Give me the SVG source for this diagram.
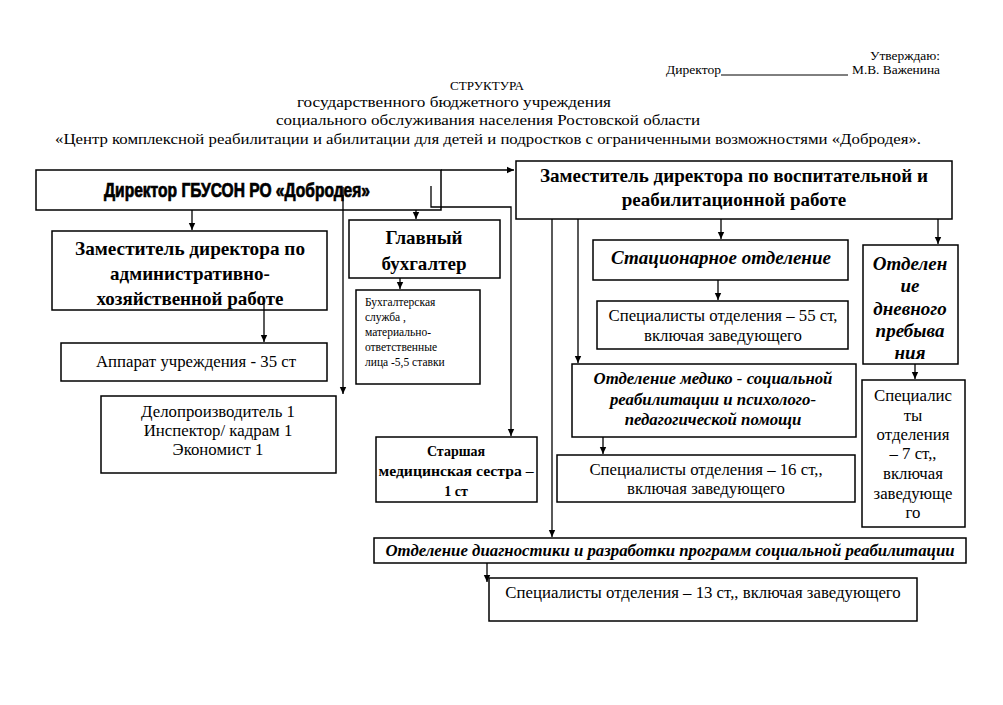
<svg xmlns="http://www.w3.org/2000/svg" width="1003" height="705" viewBox="0 0 1003 705">
<style>
.box{fill:#fff;stroke:#000;stroke-width:1.5}
.t{font-family:"Liberation Serif","Times New Roman",serif;fill:#000;text-anchor:middle}
.l{font-family:"Liberation Serif","Times New Roman",serif;fill:#000;text-anchor:start;font-size:11.5px}
.r{font-size:16.8px}
.b{font-weight:bold;font-size:19px}
.bi{font-weight:bold;font-style:italic}
.c{fill:none;stroke:#000;stroke-width:1.3}
</style>
<defs>
<marker id="ah" markerWidth="8" markerHeight="8" refX="7" refY="4" orient="auto" markerUnits="userSpaceOnUse">
<path d="M0,0.8 L7,4 L0,7.2 Z" fill="#000"/>
</marker>
</defs>
<rect width="1003" height="705" fill="#fff"/>

<g id="header" font-family="'Liberation Serif','Times New Roman',serif" fill="#000">
<text x="940" y="60" font-size="11.5" text-anchor="end" textLength="70" lengthAdjust="spacingAndGlyphs">Утверждаю:</text>
<text x="666" y="74" font-size="11.5" text-anchor="start" textLength="55" lengthAdjust="spacingAndGlyphs">Директор</text>
<line x1="721" y1="75" x2="848" y2="75" stroke="#000" stroke-width="1"/>
<text x="940" y="74" font-size="11.5" text-anchor="end" textLength="88" lengthAdjust="spacingAndGlyphs">М.В. Важенина</text>
<text x="487" y="90" font-size="12.5" text-anchor="middle" textLength="74" lengthAdjust="spacingAndGlyphs">СТРУКТУРА</text>
<text x="454" y="107" font-size="15" text-anchor="middle" textLength="314" lengthAdjust="spacingAndGlyphs">государственного  бюджетного учреждения</text>
<text x="488" y="125" font-size="15" text-anchor="middle" textLength="424" lengthAdjust="spacingAndGlyphs">социального обслуживания населения  Ростовской области</text>
<text x="488" y="144" font-size="15" text-anchor="middle" textLength="866" lengthAdjust="spacingAndGlyphs">«Центр комплексной реабилитации и абилитации для детей и подростков с ограниченными возможностями «Добродея».</text>
</g>

<g id="director">
<rect class="box" x="36" y="170" width="405" height="40"/>
<text x="237" y="197" font-family="'Liberation Sans',Arial,sans-serif" font-weight="900" font-size="19.5" text-anchor="middle" textLength="266" lengthAdjust="spacingAndGlyphs" stroke="#000" stroke-width="0.7">Директор ГБУСОН РО «Добродея»</text>
</g>

<g id="zam-vosp">
<rect class="box" x="516" y="161" width="436" height="58"/>
<text class="t b" x="734" y="182" textLength="388" lengthAdjust="spacingAndGlyphs">Заместитель директора по воспитательной и</text>
<text class="t b" x="734" y="206">реабилитационной работе</text>
</g>

<g id="zam-admin">
<rect class="box" x="52" y="231" width="275" height="79"/>
<text class="t b" x="190" y="255" textLength="230" lengthAdjust="spacingAndGlyphs">Заместитель директора по</text>
<text class="t b" x="190" y="280">административно-</text>
<text class="t b" x="190" y="305">хозяйственной работе</text>
</g>

<g id="gl-buh">
<rect class="box" x="349" y="220" width="151" height="58"/>
<text class="t b" x="424" y="244">Главный</text>
<text class="t b" x="424" y="270">бухгалтер</text>
</g>

<g id="buh-sluzhba">
<rect class="box" x="356" y="290" width="124" height="94"/>
<text class="l" x="365" y="306">Бухгалтерская</text>
<text class="l" x="365" y="321">служба ,</text>
<text class="l" x="365" y="336">материально-</text>
<text class="l" x="365" y="351">ответственные</text>
<text class="l" x="365" y="366">лица -5,5 ставки</text>
</g>

<g id="apparat">
<rect class="box" x="61" y="343" width="266" height="38"/>
<text class="t r" x="196" y="367">Аппарат учреждения - 35 ст</text>
</g>

<g id="deloproizv">
<rect class="box" x="101" y="396" width="235" height="77"/>
<text class="t r" x="218" y="417">Делопроизводитель  1</text>
<text class="t r" x="218" y="436">Инспектор/ кадрам 1</text>
<text class="t r" x="218" y="455">Экономист 1</text>
</g>

<g id="starshaya">
<rect class="box" x="376" y="437" width="161" height="65"/>
<text class="t" font-weight="bold" x="456" y="456" font-size="14">Старшая</text>
<text class="t" font-weight="bold" x="456" y="476" font-size="14" textLength="155" lengthAdjust="spacingAndGlyphs">медицинская сестра –</text>
<text class="t" font-weight="bold" x="456" y="496" font-size="14">1 ст</text>
</g>

<g id="stacionar">
<rect class="box" x="593" y="240" width="255" height="40"/>
<text class="t bi" x="721" y="264" font-size="19">Стационарное отделение</text>
</g>

<g id="spec55">
<rect class="box" x="597" y="301" width="251" height="48"/>
<text class="t r" x="723" y="321">Специалисты отделения – 55 ст,</text>
<text class="t r" x="723" y="341">включая заведующего</text>
</g>

<g id="dnevnoe">
<rect class="box" x="863" y="245" width="95" height="119"/>
<text class="t bi" x="910" y="270" font-size="19">Отделен</text>
<text class="t bi" x="910" y="292" font-size="19">ие</text>
<text class="t bi" x="910" y="315" font-size="19">дневного</text>
<text class="t bi" x="910" y="337" font-size="19">пребыва</text>
<text class="t bi" x="910" y="359" font-size="19">ния</text>
</g>

<g id="spec7">
<rect class="box" x="862" y="380" width="103" height="147"/>
<text class="t r" x="913" y="401">Специалис</text>
<text class="t r" x="913" y="421">ты</text>
<text class="t r" x="913" y="440">отделения</text>
<text class="t r" x="913" y="459">– 7 ст,,</text>
<text class="t r" x="913" y="479">включая</text>
<text class="t r" x="913" y="499">заведующе</text>
<text class="t r" x="913" y="518">го</text>
</g>

<g id="mediko">
<rect class="box" x="572" y="364" width="284" height="73"/>
<text class="t bi" x="713" y="384" font-size="16.8">Отделение медико - социальной</text>
<text class="t bi" x="713" y="405" font-size="16.8">реабилитации и психолого-</text>
<text class="t bi" x="713" y="425" font-size="16.8">педагогической помощи</text>
</g>

<g id="spec16">
<rect class="box" x="557" y="455" width="298" height="47"/>
<text class="t r" x="706" y="475">Специалисты отделения – 16 ст,,</text>
<text class="t r" x="706" y="494">включая заведующего</text>
</g>

<g id="diagnost">
<rect class="box" x="374" y="538" width="592" height="25"/>
<text class="t bi" x="670" y="556" font-size="16.8">Отделение диагностики и разработки программ социальной реабилитации</text>
</g>

<g id="spec13">
<rect class="box" x="489" y="578" width="428" height="43"/>
<text class="t r" x="703" y="598">Специалисты отделения – 13 ст,, включая заведующего</text>
</g>

<g id="connectors" class="c">
<path d="M441,170 H514" marker-end="url(#ah)"/>
<path d="M431,186 V207 H511 V436" marker-end="url(#ah)"/>
<path d="M343,187 V394" marker-end="url(#ah)"/>
<path d="M416,210 V219" marker-end="url(#ah)"/>
<path d="M192,210 V230" marker-end="url(#ah)"/>
<path d="M264,303 V342" marker-end="url(#ah)"/>
<path d="M400,278 V289" marker-end="url(#ah)"/>
<path d="M552,219 V537" marker-end="url(#ah)"/>
<path d="M578,219 V363" marker-end="url(#ah)"/>
<path d="M721,219 V239" marker-end="url(#ah)"/>
<path d="M938,219 V244" marker-end="url(#ah)"/>
<path d="M718,280 V300" marker-end="url(#ah)"/>
<path d="M915,364 V379" marker-end="url(#ah)"/>
<path d="M603,437 V454" marker-end="url(#ah)"/>
<path d="M487,563 V582" marker-end="url(#ah)"/>
</g>
</svg>
